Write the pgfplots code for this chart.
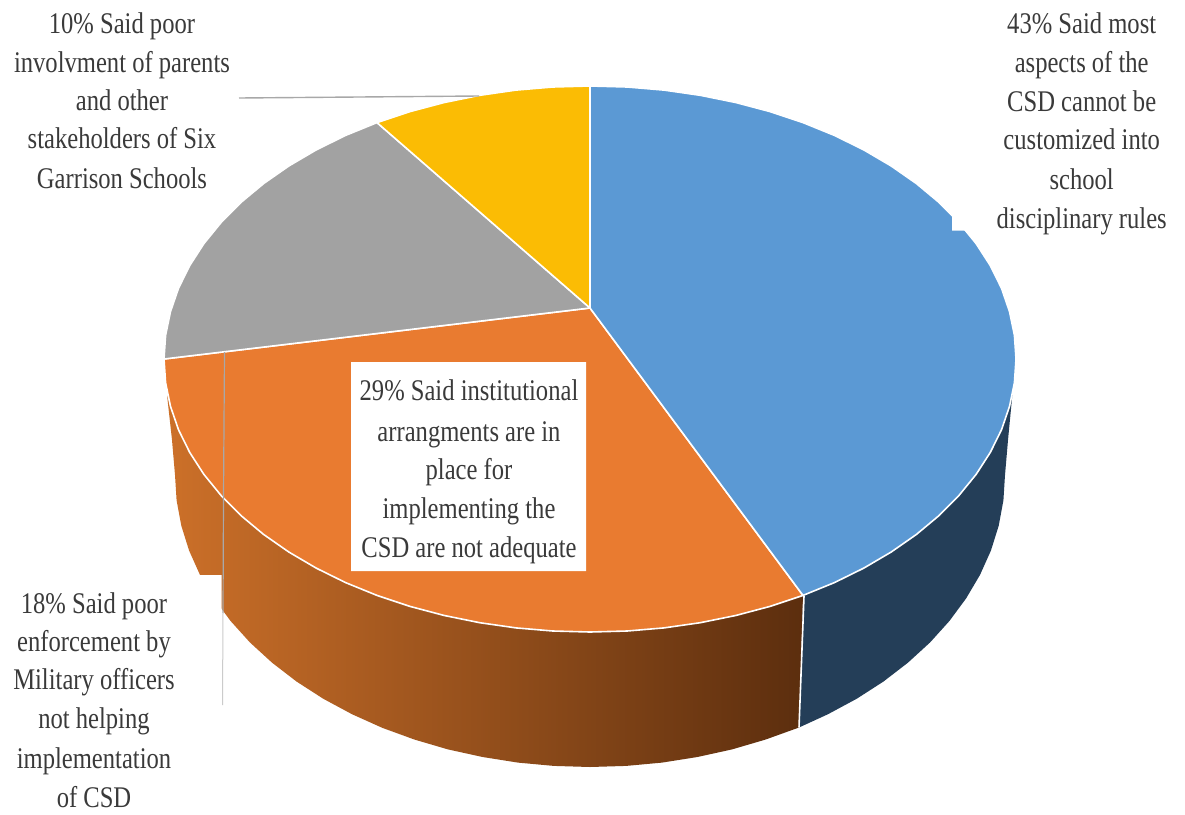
\documentclass[border=0pt]{standalone}
\usepackage{fontspec}
\usepackage{pgfplots}
\pgfplotsset{compat=1.18}
\newfontfamily\lblfont[FakeStretch=0.82]{Liberation Serif}
\definecolor{sliceBlue}{HTML}{5B99D4}
\definecolor{sliceOrange}{HTML}{E97B30}
\definecolor{sliceGrey}{HTML}{A2A2A2}
\definecolor{sliceYellow}{HTML}{FBBC04}
\definecolor{wallBlue}{HTML}{243E58}
\definecolor{wallLeft}{HTML}{CC7029}
\definecolor{wallRight}{HTML}{5C2E0E}
\definecolor{leader}{HTML}{A8A8A8}
\definecolor{lbl}{HTML}{3A3A3A}
% One centred label line, placed by its baseline
\newcommand{\lbl}[3]{\node[anchor=base,inner sep=0pt,text=lbl,font=\lblfont\fontsize{30}{36}\selectfont] at (axis cs:#1,#2) {#3};}
\begin{document}
\begin{tikzpicture}
\begin{axis}[
  scale only axis, width=1185pt, height=814pt,
  xmin=0, xmax=1185, ymin=0, ymax=814, y dir=reverse,
  hide axis, no markers, clip=true,
  every axis plot/.append style={line join=round},
]
% white page behind the chart; it also fixes the picture's extent
\addplot[fill=white, draw=none] coordinates {(0,0)(1185,0)(1185,814)(0,814)(0,0)};
% side wall, blue slice
\addplot[fill=wallBlue, draw=none] coordinates {
 (803,595.4)(834.4,582.6)(863.8,568.1)(891.2,552)(916.3,534.5)(939,515.6)(958.9,495.5)
 (976.1,474.4)(990.3,452.4)(1001.5,429.7)(1009.5,406.4)(1013,388)
 (1008,440)(1005,475)(1003.4,500.4)(998.7,525.7)(990.9,550.6)(980,574.9)(966.1,598.4)
 (949.4,621)(930,642.5)(907.9,662.7)(883.5,681.5)(856.8,698.7)(828,714.2)(799,727.5)
 (803,595.4)};
% side wall, orange slice
\addplot[left color=wallLeft, right color=wallRight, draw=none] coordinates {
 (803,595.4)(770,606.4)(735.7,615.5)(700.2,622.7)(664,627.9)(627.1,631)(590,632)
 (552.9,631)(516,627.9)(479.8,622.7)(444.3,615.5)(410,606.4)(377,595.4)(345.6,582.6)
 (316.2,568.1)(288.8,552)(263.7,534.5)(241,515.6)(221.1,495.5)(203.9,474.4)(189.7,452.4)
 (178.5,429.7)(170.5,406.4)(167,395)
 (172,440)(175,475)(176.6,500.4)(181.3,525.7)(189.1,550.6)(200,574.9)(213.9,598.4)
 (230.6,621)(250,642.5)(272.1,662.7)(296.5,681.5)(323.2,698.7)(352,714.2)(382.5,727.9)
 (414.6,739.6)(448,749.4)(482.6,757)(518,762.6)(553.8,765.9)(590,767)(626.2,765.9)
 (662,762.6)(697.4,757)(732,749.4)(765.4,739.6)(799,727.5)
 (803,595.4)};
% seam between the two walls
\addplot[draw=white, line width=1.6pt] coordinates {(804,596)(799,727.5)};
% top face: orange slice
\addplot[fill=sliceOrange, draw=white, line width=1.6pt] coordinates {
 (590,308)(803,595.4)(770,606.4)(735.7,615.5)(700.2,622.7)(664,627.9)(627.1,631)(590,632)
 (552.9,631)(516,627.9)(479.8,622.7)(444.3,615.5)(410,606.4)(377,595.4)(345.6,582.6)
 (316.2,568.1)(288.8,552)(263.7,534.5)(241,515.6)(221.1,495.5)(203.9,474.4)(189.7,452.4)
 (178.5,429.7)(170.5,406.4)(165.6,382.8)(164,359)(590,308)};
% top face: grey slice
\addplot[fill=sliceGrey, draw=white, line width=1.6pt] coordinates {
 (590,308)(164,359)(165.6,335.2)(170.5,311.6)(178.5,288.3)(189.7,265.6)(203.9,243.6)
 (221.1,222.5)(241,202.4)(263.7,183.5)(288.8,166)(316.2,149.9)(345.6,135.4)(377,122.6)(590,308)};
% top face: yellow slice
\addplot[fill=sliceYellow, draw=white, line width=1.6pt] coordinates {
 (590,308)(377,122.6)(410,111.6)(444.3,102.5)(479.8,95.3)(516,90.1)(552.9,87)(590,86)(590,308)};
% top face: blue slice
\addplot[fill=sliceBlue, draw=white, line width=1.6pt] coordinates {
 (590,308)(590,86)(627.1,87)(664,90.1)(700.2,95.3)(735.7,102.5)(770,111.6)(803,122.6)
 (834.4,135.4)(863.8,149.9)(891.2,166)(916.3,183.5)(939,202.4)(958.9,222.5)(976.1,243.6)
 (990.3,265.6)(1001.5,288.3)(1009.5,311.6)(1014.4,335.2)(1016,359)(1014.4,382.8)(1009.5,406.4)
 (1001.5,429.7)(990.3,452.4)(976.1,474.4)(958.9,495.5)(939,515.6)(916.3,534.5)(891.2,552)
 (863.8,568.1)(834.4,582.6)(803,595.4)(590,308)};
% white backgrounds of the data labels
\addplot[fill=white, draw=none] coordinates {(952,190)(1100,190)(1100,230.5)(952,230.5)(952,190)};
\addplot[fill=white, draw=none] coordinates {(0,575)(221.5,575)(221.5,814)(0,814)(0,575)};
\addplot[fill=white, draw=none] coordinates {(351,362)(586,362)(586,571)(351,571)(351,362)};
% leader lines
\addplot[draw=leader, line width=1.4pt] coordinates {(239,98)(479,96)};
\addplot[draw=leader, line width=1.2pt] coordinates {(224.5,352)(223.5,497)(223,613)};
\addplot[draw=leader!60, line width=1pt] coordinates {(223,613)(222.5,705)};
% data labels
\lbl{122}{33}{10\% Said poor}
\lbl{122}{72}{involvment of parents}
\lbl{122}{110}{and other}
\lbl{122}{148}{stakeholders of Six}
\lbl{122}{188}{Garrison Schools}
\lbl{1081.7}{33}{43\% Said most}
\lbl{1081.7}{72}{aspects of the}
\lbl{1081.7}{111}{CSD cannot be}
\lbl{1081.7}{149}{customized into}
\lbl{1081.7}{189}{school}
\lbl{1081.7}{228}{disciplinary rules}
\lbl{469}{400}{29\% Said institutional}
\lbl{469}{441}{arrangments are in}
\lbl{469}{479}{place for}
\lbl{469}{518}{implementing the}
\lbl{469}{557}{CSD are not adequate}
\lbl{94}{613}{18\% Said poor}
\lbl{94}{651}{enforcement by}
\lbl{94}{689}{Military officers}
\lbl{94}{728}{not helping}
\lbl{94}{768}{implementation}
\lbl{94}{807}{of CSD}
\end{axis}
\end{tikzpicture}
\end{document}
